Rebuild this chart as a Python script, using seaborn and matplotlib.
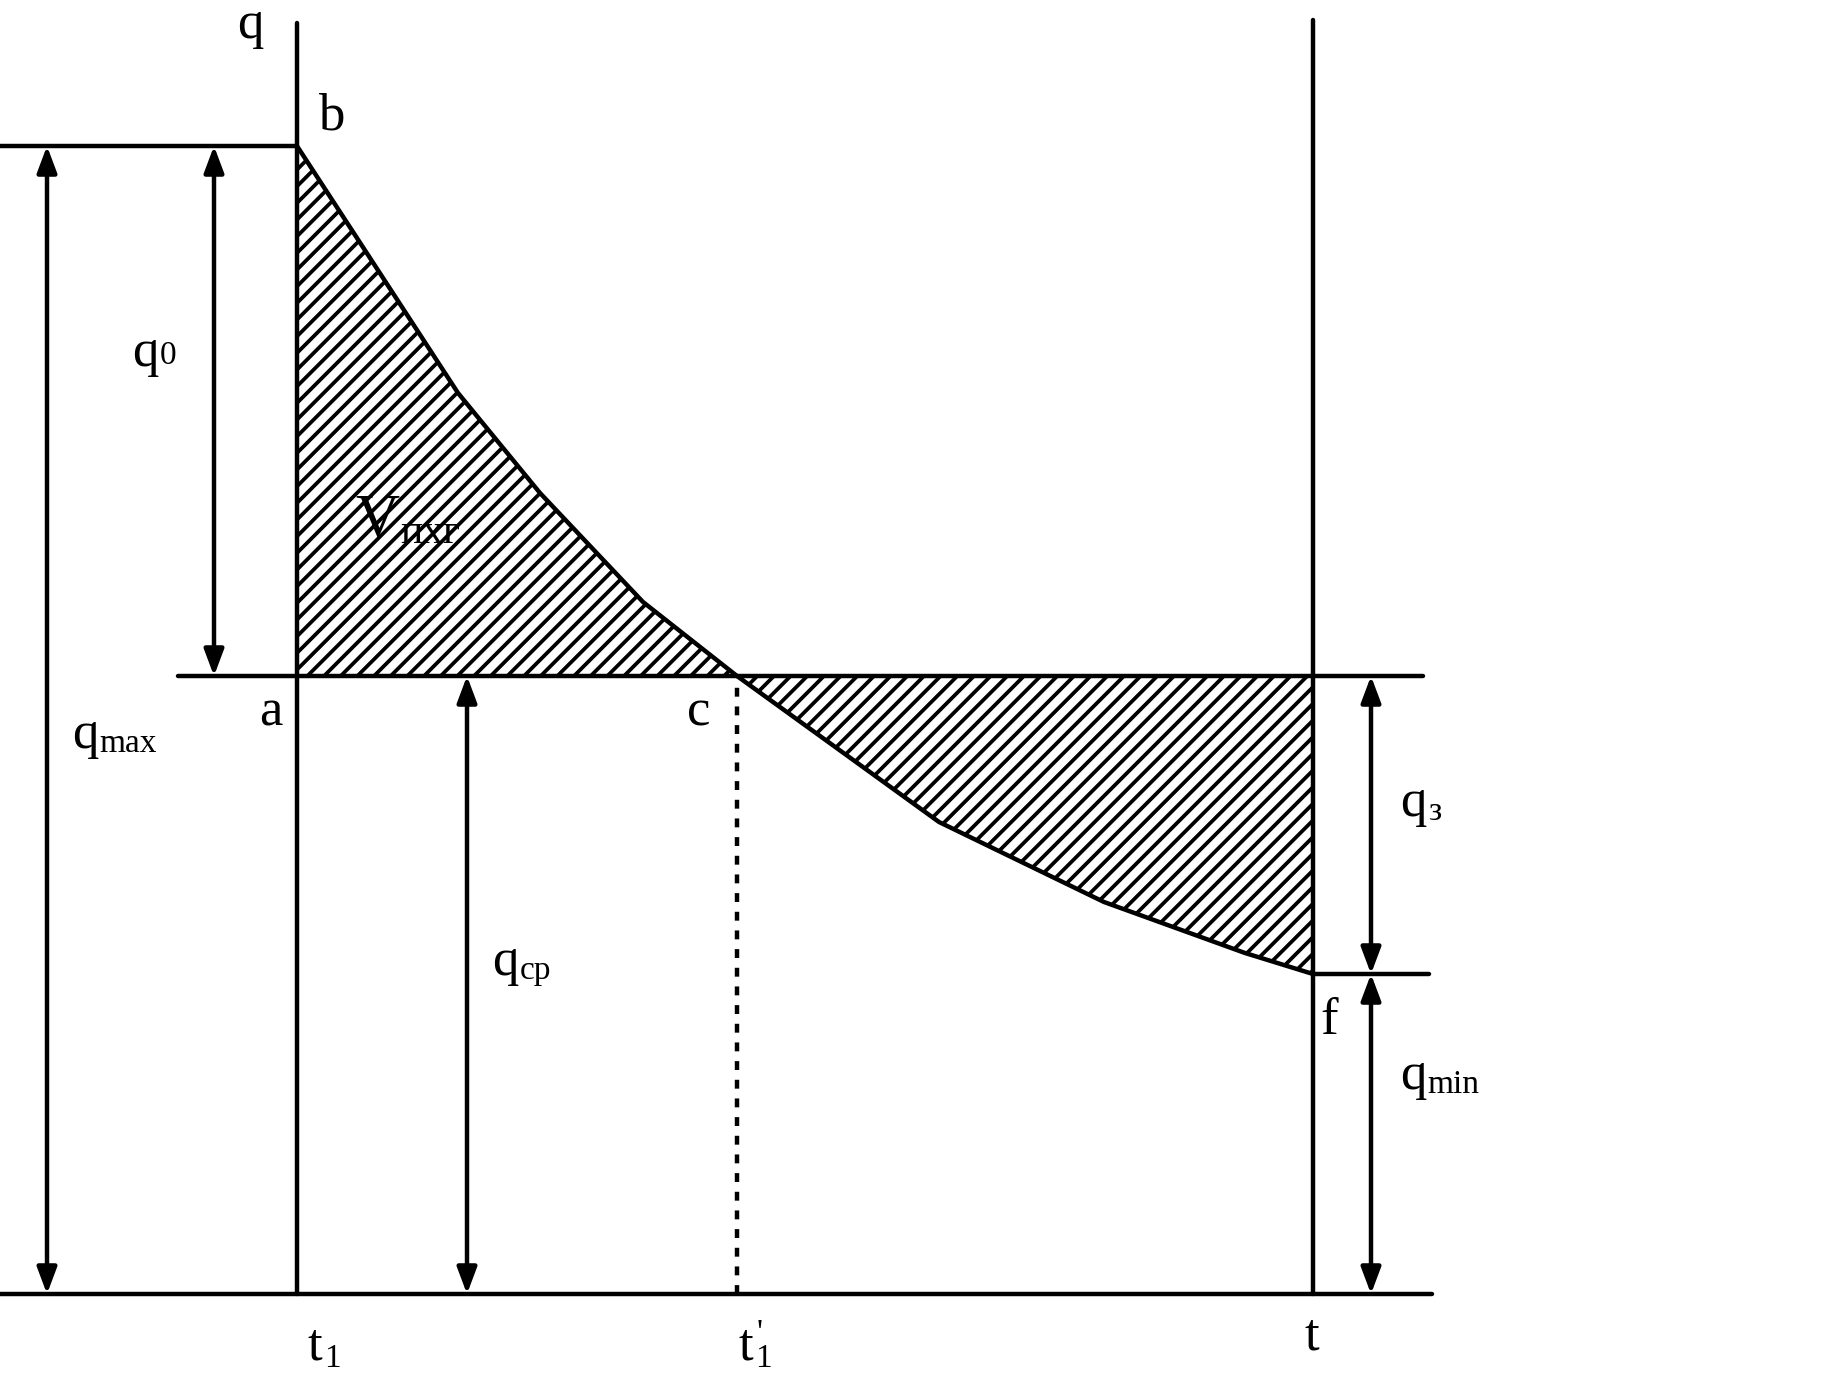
import matplotlib
matplotlib.use("Agg")
import matplotlib.pyplot as plt
import seaborn as sns
import numpy as np

# diagram values (t along the time axis, q upward from the base line)
t1, t1_prime, t_end = 297, 737, 1313
q_max, q_cp, q_min = 1148, 618, 320

# discharge curve b -> c (above q_cp) and c -> f (below q_cp)
t_upper = [297, 458, 540, 643, 737]
q_upper = [1148, 901, 801, 692, 618]
t_lower = [737, 939, 1104, 1245, 1313]
q_lower = [618, 472, 392, 341, 320]

sns.set_theme(style="white")
plt.rcParams["font.family"] = ["Liberation Serif", "DejaVu Serif"]
plt.rcParams["hatch.linewidth"] = 1.35

fig = plt.figure(figsize=(18.41 / 2, 13.73 / 2), dpi=200)
ax = fig.add_axes([0, 0, 1, 1])
ax.set_xlim(0, 1841)
ax.set_ylim(-79, 1294)
ax.axis("off")

LW = 1.6
K = "black"

# hatched areas
ax.fill_between(t_upper, q_upper, q_cp, facecolor="white", edgecolor=K,
                hatch="////", linewidth=0)
ax.fill_between(t_lower, q_lower, q_cp, facecolor="white", edgecolor=K,
                hatch="////", linewidth=0)

# curve
sns.lineplot(x=t_upper, y=q_upper, sort=False, estimator=None, ax=ax,
             color=K, lw=LW)
sns.lineplot(x=t_lower, y=q_lower, sort=False, estimator=None, ax=ax,
             color=K, lw=LW)

# frame lines
ax.plot([0, 1432], [0, 0], color=K, lw=LW)
ax.plot([0, t1], [q_max, q_max], color=K, lw=LW)
ax.plot([178, 1423], [q_cp, q_cp], color=K, lw=LW)
ax.plot([t_end, 1429], [q_min, q_min], color=K, lw=LW)
ax.plot([t1, t1], [0, 1271], color=K, lw=LW)
ax.plot([t_end, t_end], [0, 1274], color=K, lw=LW)
ax.plot([t1_prime, t1_prime], [0, q_cp], color=K, lw=LW,
        linestyle=(0, (2, 2.2)))

# double-headed dimension arrows
def dim_arrow(x, q_a, q_b):
    ax.annotate("", xy=(x, q_a), xytext=(x, q_b),
                arrowprops=dict(arrowstyle="<|-|>,head_length=0.8,head_width=0.3",
                                mutation_scale=10, color=K, lw=LW,
                                shrinkA=0, shrinkB=0))

dim_arrow(47, q_max, 0)
dim_arrow(214, q_max, q_cp)
dim_arrow(467, q_cp, 0)
dim_arrow(1371, q_cp, q_min)
dim_arrow(1371, q_min, 0)

# labels
MAIN = 19
SUB = 12

def label(x, y, main, sub="", size=MAIN, sub_size=SUB, dy=0):
    txt = ax.text(x, y, main, fontsize=size, color=K, ha="left", va="baseline")
    if sub:
        ax.annotate(sub, xy=(1, 0), xycoords=txt, xytext=(0.5, dy),
                    textcoords="offset points", fontsize=sub_size, color=K,
                    ha="left", va="bottom")
    return txt

label(237, 1256, "q")
label(318, 1164, "b")
label(259, 568, "a")
label(687, 568, "c")
label(1320, 260, "f")
label(308, -66, "t", "1", dy=-1)
label(739, -66, "t", "1", dy=-1)
ax.text(757, -48, "'", fontsize=SUB, color=K, ha="left", va="baseline")
label(1305, -56, "t")
label(132, 928, "q", "0", dy=2)
label(72, 546, "q", "max")
label(492, 319, "q", "ср")
label(1400, 478, "q", "з")
label(1400, 205, "q", "min")
label(355, 758, "V", "пхг", size=22, sub_size=15, dy=-1)

fig.savefig("out.png", dpi=200, facecolor="white")
